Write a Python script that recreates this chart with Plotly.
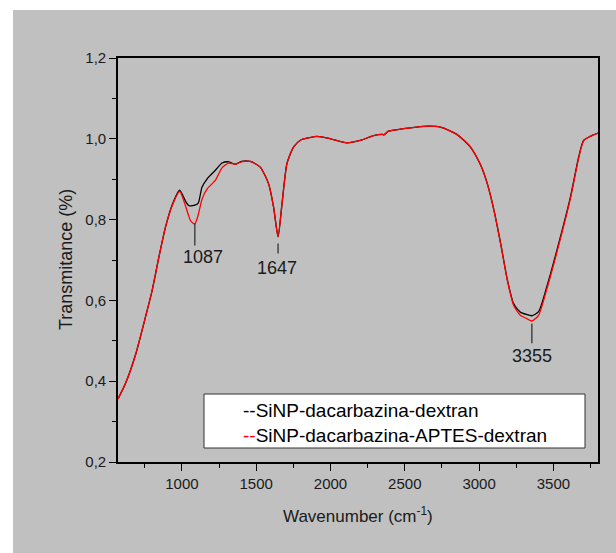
import plotly.graph_objects as go

# Wavenumber (cm-1)
wavenumber = [570, 620, 690, 750, 800, 845, 890, 935, 985, 1025, 1045, 1060, 1087, 1110,
              1135, 1170, 1225, 1270, 1315, 1360, 1400, 1460, 1527, 1583, 1617, 1647, 1674,
              1707, 1752, 1800, 1860, 1910, 2000, 2110, 2200, 2290, 2350, 2360, 2390, 2490,
              2625, 2740, 2850, 2940, 3010, 3055, 3100, 3145, 3190, 3232, 3277, 3320, 3355,
              3400, 3457, 3524, 3614, 3670, 3703, 3748, 3800]

# SiNP-dacarbazina-dextran (black)
t_dextran = [0.356, 0.394, 0.468, 0.552, 0.625, 0.707, 0.782, 0.837, 0.873, 0.845, 0.835,
             0.834, 0.836, 0.841, 0.880, 0.901, 0.922, 0.940, 0.943, 0.937, 0.944, 0.944,
             0.930, 0.889, 0.831, 0.758, 0.840, 0.939, 0.980, 0.997, 1.003, 1.006, 1.000,
             0.990, 0.996, 1.008, 1.011, 1.010, 1.019, 1.025, 1.031, 1.029, 1.011, 0.980,
             0.935, 0.889, 0.823, 0.741, 0.651, 0.592, 0.571, 0.565, 0.562, 0.572, 0.636,
             0.725, 0.855, 0.955, 0.996, 1.006, 1.014]

# SiNP-dacarbazina-APTES-dextran (red)
t_aptes = [0.356, 0.394, 0.468, 0.552, 0.625, 0.707, 0.782, 0.835, 0.870, 0.833, 0.810,
           0.796, 0.789, 0.812, 0.850, 0.876, 0.897, 0.928, 0.940, 0.937, 0.943, 0.944,
           0.930, 0.889, 0.831, 0.757, 0.840, 0.939, 0.980, 0.997, 1.003, 1.006, 1.000,
           0.990, 0.996, 1.008, 1.011, 1.010, 1.019, 1.025, 1.031, 1.029, 1.011, 0.981,
           0.936, 0.889, 0.823, 0.740, 0.650, 0.588, 0.563, 0.555, 0.549, 0.563, 0.630,
           0.720, 0.852, 0.953, 0.995, 1.006, 1.014]

peak_labels = [1087, 1647, 3355]
peak_line_top = [0.791, 0.741, 0.543]
peak_line_bottom = [0.736, 0.716, 0.494]
peak_text_y = [0.707, 0.680, 0.462]
peak_text_shift = [8, -1, 0]

series_names = ["SiNP-dacarbazina-dextran", "SiNP-dacarbazina-APTES-dextran"]
series_colors = ["black", "red"]

FONT = "Liberation Sans, Arial, sans-serif"
GRAY = "#c0c0c0"
TXT = "#1a1a1a"

fig = go.Figure()
for name, ys, col in zip(series_names, [t_dextran, t_aptes], series_colors):
    fig.add_trace(go.Scatter(x=wavenumber, y=ys, mode="lines", name=name,
                             line=dict(color=col, width=1.3, shape="spline", smoothing=0.6),
                             showlegend=False))

W, H = 616, 553
L, R, T, B = 118, 18, 58, 91
pw, ph = W - L - R, H - T - B

def px_x(p):
    return (p - L) / pw

def px_y(p):
    return (H - B - p) / ph

shapes = [
    # white strips outside grey page
    dict(type="rect", xref="paper", yref="paper", x0=px_x(-5), x1=px_x(13), y0=px_y(560), y1=px_y(-5),
         fillcolor="white", line=dict(width=0), layer="below"),
    dict(type="rect", xref="paper", yref="paper", x0=px_x(-5), x1=px_x(620), y0=px_y(10), y1=px_y(-5),
         fillcolor="white", line=dict(width=0), layer="below"),
    # legend box
    dict(type="rect", xref="paper", yref="paper", x0=px_x(204), x1=px_x(585), y0=px_y(448), y1=px_y(394),
         fillcolor="white", line=dict(color="#333333", width=1), layer="above"),
]
for xv, y0, y1 in zip(peak_labels, peak_line_top, peak_line_bottom):
    shapes.append(dict(type="line", xref="x", yref="y", x0=xv, x1=xv, y0=y0, y1=y1,
                       line=dict(color="#333333", width=1.3)))

annotations = []
for xv, ty, sh in zip(peak_labels, peak_text_y, peak_text_shift):
    annotations.append(dict(x=xv, y=ty, xref="x", yref="y", text=str(xv), showarrow=False,
                            xanchor="center", yanchor="middle", xshift=sh,
                            font=dict(family=FONT, size=18, color=TXT)))

for i, (name, col) in enumerate(zip(series_names, series_colors)):
    annotations.append(dict(x=px_x(241), y=px_y(410 + 25 * i), xref="paper", yref="paper",
                            text=f"<span style='color:{col}'>--</span>{name}",
                            showarrow=False, xanchor="left", yanchor="middle",
                            font=dict(family=FONT, size=19, color="black")))

# axis titles
annotations.append(dict(x=0.5, y=px_y(515), xref="paper", yref="paper",
                        text="Wavenumber (cm<sup>-1</sup>)", showarrow=False,
                        xanchor="center", yanchor="middle",
                        font=dict(family=FONT, size=17, color=TXT)))
annotations.append(dict(x=px_x(66), y=0.5, xref="paper", yref="paper",
                        text="Transmitance (%)", showarrow=False, textangle=-90,
                        xanchor="center", yanchor="middle",
                        font=dict(family=FONT, size=18, color=TXT)))

fig.update_layout(
    width=W, height=H,
    margin=dict(l=L, r=R, t=T, b=B, pad=0),
    paper_bgcolor=GRAY, plot_bgcolor=GRAY,
    separators=",.",
    font=dict(family=FONT, size=15, color=TXT),
    shapes=shapes, annotations=annotations,
    showlegend=False,
)
fig.update_xaxes(range=[570, 3800], tick0=0, dtick=500, ticks="outside", ticklen=7,
                 tickwidth=1.3, tickcolor="black", showgrid=False, zeroline=False,
                 showline=True, linecolor="black", linewidth=1.6, mirror=True,
                 tickfont=dict(family=FONT, size=15, color=TXT),
                 minor=dict(dtick=250, tick0=0, ticks="outside", ticklen=4,
                            tickcolor="black", tickwidth=1.3, showgrid=False))
fig.update_yaxes(range=[0.2, 1.2], tick0=0.2, dtick=0.2, tickformat=".1f", ticks="outside",
                 ticklen=7, tickwidth=1.3, tickcolor="black", showgrid=False, zeroline=False,
                 showline=True, linecolor="black", linewidth=1.6, mirror=True,
                 tickfont=dict(family=FONT, size=15, color=TXT),
                 minor=dict(dtick=0.1, tick0=0.2, ticks="outside", ticklen=4,
                            tickcolor="black", tickwidth=1.3, showgrid=False))

fig.write_html("out.html")
